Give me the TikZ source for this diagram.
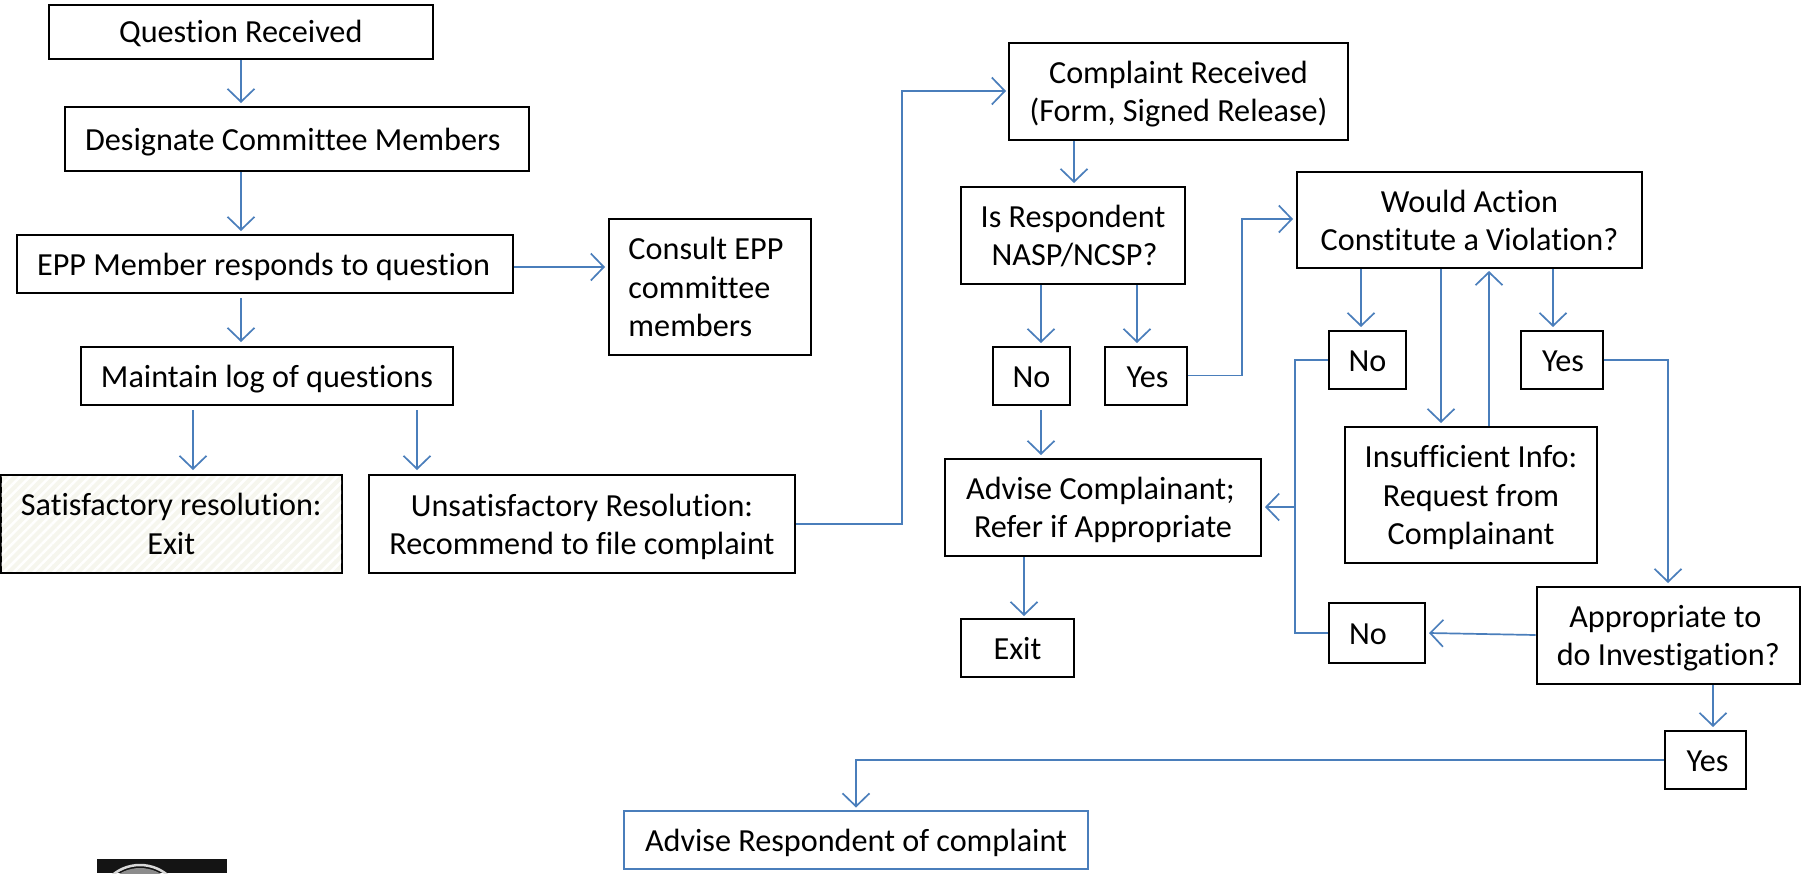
\documentclass[tikz,border=0pt]{standalone}
\usepackage{fontspec}
\setmainfont{Carlito}[Ligatures=NoCommon]
\usetikzlibrary{arrows.meta,patterns.meta}
\definecolor{linkblue}{RGB}{74,126,187}
\definecolor{hatchc}{RGB}{246,246,238}
\tikzset{
  x=1pt,y=-1pt,
  boxnode/.style={draw=black,line width=2pt,inner sep=0pt,fill=white,font=\fontsize{32.2}{38.3}\selectfont},
  link/.style={draw=linkblue,line width=1.7pt},
  arr/.style={link,-{Straight Barb[length=13pt,width=27pt,line width=1.7pt]}},
}
\newcommand{\tb}[1]{\raisebox{-3.5pt}[\height][\depth]{\begin{tabular}{@{}c@{}}#1\end{tabular}}}
\renewcommand{\arraystretch}{1}
\newcommand{\bx}[7][]{\node[boxnode,#1,minimum width=#4pt-#2pt,minimum height=#5pt-#3pt] (#6) at ({(#2+#4)/2},{(#3+#5)/2}) {#7};}
\begin{document}
\begin{tikzpicture}
\useasboundingbox (0,0) rectangle (1806,873);
\fill[white] (0,0) rectangle (1806,873);
\bx{48.5}{4.5}{433}{59}{q}{\tb{Question Received}}
\bx{64.5}{107}{529}{171}{d}{\hspace*{-8pt}\tb{Designate Committee Members}}
\bx{17}{235}{513}{293}{e}{\hspace*{-3pt}\tb{EPP Member responds to question}}
\bx{81}{347}{453}{405}{m}{\tb{Maintain log of questions}}
\bx{609}{219}{811}{355}{c}{\hspace*{-8pt}\raisebox{-3.5pt}[\height][\depth]{\begin{tabular}{@{}l@{}}Consult EPP\\committee\\members\end{tabular}}}
\bx{0.5}{475}{342}{572.5}{s}{}
\fill[hatchc,postaction={pattern={Lines[angle=45,distance=7pt,line width=2.5pt]},pattern color=white}] (1.5,476) rectangle (341,571.5);
\node[font=\fontsize{32.2}{38.3}\selectfont,inner sep=0pt] (st) at (s.center) {\tb{Satisfactory resolution:\\Exit}};
\bx{369}{475}{795}{573}{u}{\tb{Unsatisfactory Resolution:\\Recommend to file complaint}}
\bx{1009}{43}{1348}{140}{cr}{\tb{Complaint Received\\(Form, Signed Release)}}
\bx{961}{187}{1185}{284}{is}{\tb{Is Respondent\\\hspace*{3pt}NASP/NCSP?}}
\bx{993}{347}{1070}{405}{no1}{\tb{No}}
\bx{1105}{347}{1187}{405}{yes1}{\hspace*{3pt}\tb{Yes}}
\bx{1297}{172}{1642}{268}{w}{\tb{Would Action\\Constitute a Violation?}}
\bx{1329}{331}{1406}{389}{no2}{\tb{No}}
\bx{1520.5}{331}{1602.5}{389}{yes2}{\hspace*{3pt}\tb{Yes}}
\bx{1345}{427}{1597}{563}{ins}{\tb{Insufficient Info:\\Request from\\Complainant}}
\bx{1536.5}{587}{1800}{684}{ap}{\tb{Appropriate to\hspace*{6pt}\\do Investigation?}}
\bx{1329}{603}{1425}{663}{no3}{\hspace*{-18pt}\tb{No}}
\bx{1665}{731}{1746}{789}{yes3}{\hspace*{4pt}\tb{Yes}}
\bx{945}{459}{1261}{556}{ac}{\tb{Advise Complainant;\hspace*{5pt}\\Refer if Appropriate}}
\bx{961}{619}{1074}{677}{ex}{\tb{Exit}}
\bx[draw=linkblue]{624}{811}{1088}{869}{ar}{\tb{Advise Respondent of complaint}}
% connectors
\coordinate (t1) at (241,103); \draw[arr] (q.south -| t1) -- (t1);
\coordinate (t2) at (241,231); \draw[arr] (d.south -| t2) -- (t2);
\coordinate (f3) at (241,298); \coordinate (t3) at (241,342); \draw[arr] (f3) -- (t3);
\coordinate (f4) at (193,410); \coordinate (t4) at (193,470); \draw[arr] (f4) -- (t4);
\coordinate (f5) at (417,410); \coordinate (t5) at (417,470); \draw[arr] (f5) -- (t5);
\coordinate (t6) at (605,267); \draw[arr] (e.east |- t6) -- (t6);
\coordinate (t7) at (1006,91); \draw[arr] (u.east |- 0,524) -- (902,524) -- (902,91) -- (t7);
\coordinate (t8) at (1074,183); \draw[arr] (cr.south -| t8) -- (t8);
\coordinate (t9) at (1041,343); \draw[arr] (is.south -| t9) -- (t9);
\coordinate (t10) at (1137,343); \draw[arr] (is.south -| t10) -- (t10);
\coordinate (t11) at (1293,219); \draw[arr] (yes1.east |- 0,375.5) -- (1242,375.5) -- (1242,219) -- (t11);
\coordinate (f12) at (1041,410); \coordinate (t12) at (1041,455); \draw[arr] (f12) -- (t12);
\coordinate (t13) at (1024,616); \draw[arr] (ac.south -| t13) -- (t13);
\coordinate (t14) at (1361,327); \draw[arr] (w.south -| t14) -- (t14);
\coordinate (t15) at (1441,423); \draw[arr] (w.south -| t15) -- (t15);
\coordinate (t16) at (1489,271); \draw[arr] (ins.north -| t16) -- (t16);
\coordinate (t17) at (1553,327); \draw[arr] (w.south -| t17) -- (t17);
\coordinate (t18) at (1668,583); \draw[arr] (yes2.east |- 0,360) -- (1668,360) -- (t18);
\draw[link] (no2.west |- 0,360) -- (1295,360) -- (1295,633) -- (no3.west |- 0,633);
\coordinate (b1) at (1295,507); \coordinate (t19) at (1265,507); \draw[arr] (b1) -- (t19);
\coordinate (t20) at (1429,633); \draw[arr] (ap.west |- 0,635) -- (t20);
\coordinate (t21) at (1713,727); \draw[arr] (ap.south -| t21) -- (t21);
\coordinate (t22) at (856,807.5); \draw[arr] (yes3.west |- 0,760) -- (856,760) -- (t22);
% logo fragment
\fill[black!92] (97,859) rectangle (227,873);
\begin{scope}
\clip (97,859) rectangle (227,873);
\draw[white!85!black,line width=2.5pt] (140,908) circle (43);
\fill[black!45] (140,908) circle (40);
\end{scope}
\end{tikzpicture}
\end{document}
